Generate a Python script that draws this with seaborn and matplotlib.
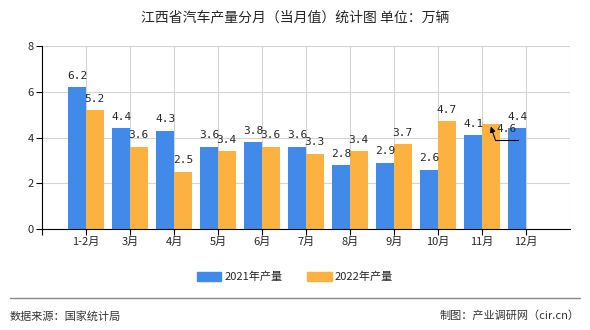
import numpy as np
import pandas as pd
import matplotlib
matplotlib.use("Agg")
import matplotlib.pyplot as plt
from matplotlib.patches import Patch
import seaborn as sns

months = ["1-2月", "3月", "4月", "5月", "6月", "7月", "8月", "9月", "10月", "11月", "12月"]
y2021 = [6.2, 4.4, 4.3, 3.6, 3.8, 3.6, 2.8, 2.9, 2.6, 4.1, 4.4]
y2022 = [5.2, 3.6, 2.5, 3.4, 3.6, 3.3, 3.4, 3.7, 4.7, 4.6, np.nan]
series = ["2021年产量", "2022年产量"]
colors = ["#418AEA", "#FBB240"]

sns.set_theme(style="white")
plt.rcParams['font.family'] = ['Noto Sans CJK SC', 'DejaVu Sans']

df = pd.DataFrame({
    "月份": months * 2,
    "产量": y2021 + y2022,
    "系列": [series[0]] * len(months) + [series[1]] * len(months),
})

fig = plt.figure(figsize=(5.9, 3.3), dpi=100)
ax = fig.add_axes([42/590, 1 - 229/330, (570-42)/590, (229-46)/330])
sns.barplot(data=df, x="月份", y="产量", hue="系列", palette=colors,
            order=months, hue_order=series, width=0.8, saturation=1,
            linewidth=0, ax=ax, legend=False)

n = len(months)
ax.set_xlim(-1, n)
ax.set_ylim(0, 8)
ax.set_yticks([0, 2, 4, 6, 8])
ax.set_xticks(range(-1, n))
ax.set_xticklabels([""] + months)
ax.set_xlabel("")
ax.set_ylabel("")
for yv in [2, 4, 6, 8]:
    ax.axhline(yv, color="#d4d4d4", lw=0.8, zorder=0)
for xv in range(0, n + 1):
    ax.axvline(xv, color="#d4d4d4", lw=0.8, zorder=0)
ax.set_axisbelow(True)
for s in ["top", "right"]:
    ax.spines[s].set_visible(False)
for s in ["left", "bottom"]:
    ax.spines[s].set_color("black")
    ax.spines[s].set_linewidth(0.8)
ax.tick_params(axis="both", which="both", length=4, width=0.8, color="black",
               labelsize=8, pad=2, left=True, bottom=True)

mono = ["DejaVu Sans Mono"]
fs = 8
for i, (a, b) in enumerate(zip(y2021, y2022)):
    ax.text(i - 0.2, a + 0.28, f"{a:.1f}", ha="center", va="bottom", fontsize=fs, family=mono)
    if not np.isnan(b):
        if i == 9:
            ax.text(i + 0.55, b - 0.45, f"{b:.1f}", ha="center", va="bottom", fontsize=fs, family=mono)
            ax.annotate("", xy=(i + 0.2, b - 0.12), xytext=(i + 0.3, b - 0.69),
                        arrowprops=dict(arrowstyle="-|>", color="black", lw=0.8,
                                        mutation_scale=8, shrinkA=0, shrinkB=0))
            ax.plot([i + 0.3, i + 0.82], [b - 0.69, b - 0.69], color="black", lw=0.8)
        else:
            ax.text(i + 0.2, b + 0.28, f"{b:.1f}", ha="center", va="bottom", fontsize=fs, family=mono)

fig.text(0.5, 1 - 17/330, "江西省汽车产量分月（当月值）统计图 单位：万辆", ha="center", va="center", fontsize=10)

handles = [Patch(color=c, label=l) for c, l in zip(colors, series)]
fig.legend(handles=handles, loc="center", bbox_to_anchor=(0.5, 1 - 277/330), ncol=2,
           frameon=False, fontsize=8, handlelength=2.2, handleheight=0.9,
           columnspacing=2.2, handletextpad=0.3)

fig.add_artist(plt.Line2D([10/590, 580/590], [1 - 298/330] * 2, color="#888888", lw=1))
fig.text(10/590, 1 - 316/330, "数据来源：国家统计局", ha="left", va="center", fontsize=8, color="#333333")
fig.text(580/590, 1 - 316/330, "制图：产业调研网（cir.cn）", ha="right", va="center", fontsize=8, color="#333333")

fig.savefig("out.png", dpi=100)
